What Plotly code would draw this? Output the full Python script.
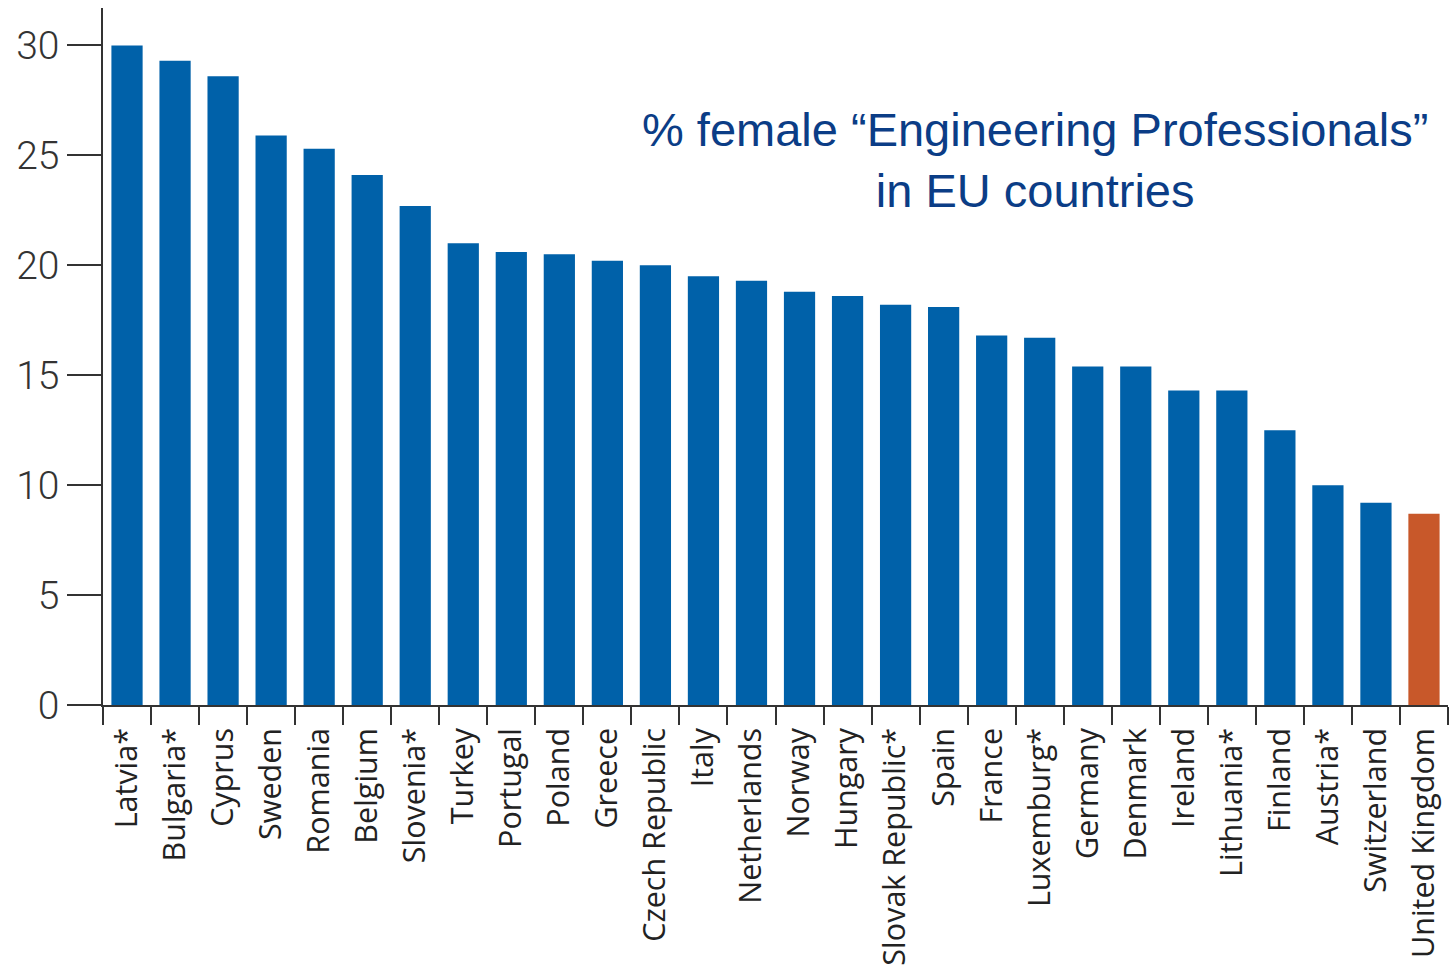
import plotly.graph_objects as go

countries = ["Latvia*", "Bulgaria*", "Cyprus", "Sweden", "Romania", "Belgium", "Slovenia*",
             "Turkey", "Portugal", "Poland", "Greece", "Czech Republic", "Italy", "Netherlands",
             "Norway", "Hungary", "Slovak Republic*", "Spain", "France", "Luxemburg*", "Germany",
             "Denmark", "Ireland", "Lithuania*", "Finland", "Austria*", "Switzerland", "United Kingdom"]
values = [30.0, 29.3, 28.6, 25.9, 25.3, 24.1, 22.7,
          21.0, 20.6, 20.5, 20.2, 20.0, 19.5, 19.3,
          18.8, 18.6, 18.2, 18.1, 16.8, 16.7, 15.4,
          15.4, 14.3, 14.3, 12.5, 10.0, 9.2, 8.7]
highlight = "United Kingdom"
y_ticks = [0, 5, 10, 15, 20, 25, 30]

colors = ["#c8582a" if c == highlight else "#0061a9" for c in countries]

fig = go.Figure(go.Bar(x=countries, y=values, marker=dict(color=colors, line=dict(width=0))))

fig.update_layout(
    width=1450, height=971,
    margin=dict(l=103, r=2, t=8, b=266),
    plot_bgcolor="white", paper_bgcolor="white",
    bargap=0.35, showlegend=False,
    font=dict(family="Open Sans", color="#222222"),
)
fig.update_xaxes(
    showline=True, linecolor="#333333", linewidth=1.5,
    ticks="outside", tickson="boundaries", ticklen=18, tickcolor="#333333", tickwidth=1.5,
    tickangle=-90, tickfont=dict(family="Open Sans", size=30.5, color="#222222"),
    ticklabelstandoff=9,
    showgrid=False,
)
fig.update_yaxes(
    range=[0, 31.7], tickvals=y_ticks,
    showline=True, linecolor="#333333", linewidth=1.5,
    ticks="outside", ticklen=34, tickcolor="#333333", tickwidth=1.5,
    tickfont=dict(family="Roboto", size=39, color="#333333", weight=300),
    showgrid=False, zeroline=False,
)
fig.add_annotation(
    text="% female “Engineering Professionals”<br>in EU countries",
    xref="paper", yref="paper", x=0.693, y=0.866, xanchor="center", yanchor="top",
    showarrow=False, align="center",
    font=dict(family="Liberation Sans", size=47, color="#0b3d86"),
)
fig.write_html("out.html")
